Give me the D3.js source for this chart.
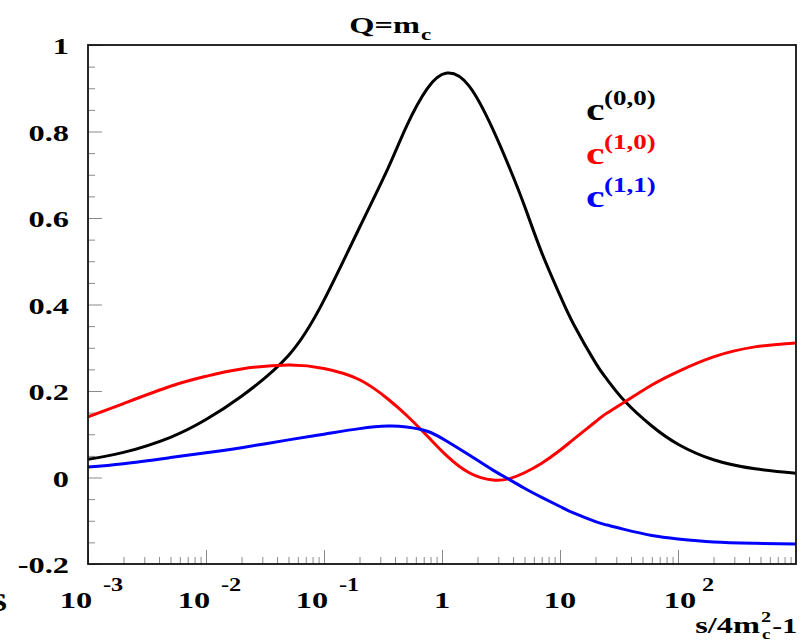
<!DOCTYPE html>
<html><head><meta charset="utf-8">
<script src="https://cdn.jsdelivr.net/npm/d3@7"></script>
<style>body{margin:0;background:#fff}svg{display:block}</style>
</head><body><svg id="c" width="810" height="641"></svg>
<script>
// ---- data ----
const xValues = [0.001,0.002,0.005,0.01,0.02,0.05,0.1,0.2,0.35,0.5,0.75,1.1,1.7,2.7,3.8,5,7,10,13,20,25,35,60,100,200,450,1000];
const c00 = [0.042,0.058,0.093,0.134,0.188,0.282,0.410,0.578,0.716,0.812,0.899,0.935,0.905,0.805,0.711,0.628,0.520,0.421,0.355,0.265,0.227,0.178,0.119,0.077,0.041,0.020,0.010];
const c10 = [0.140,0.171,0.211,0.234,0.251,0.260,0.252,0.226,0.181,0.144,0.096,0.050,0.011,-0.006,-0.002,0.011,0.033,0.063,0.088,0.129,0.149,0.174,0.214,0.245,0.279,0.302,0.311];
const c11 = [0.024,0.032,0.046,0.057,0.069,0.087,0.100,0.113,0.119,0.117,0.107,0.084,0.052,0.017,-0.006,-0.025,-0.046,-0.067,-0.082,-0.102,-0.110,-0.120,-0.134,-0.142,-0.149,-0.152,-0.154];
const seriesNames = ["(0,0)","(1,0)","(1,1)"];
const seriesColors = ["#000000","#ff0000","#0000ff"];
const yTickValues = [-0.2,0,0.2,0.4,0.6,0.8,1];
const yTickLabels = ["-0.2","0","0.2","0.4","0.6","0.8","1"];
const xTickValues = [0.001,0.01,0.1,1,10,100];
const xTickBase = ["10","10","10","1","10","10"];
const xTickExp = ["-3","-2","-1","","","2"];
const titleMain = "Q=m", titleSub = "c";

// ---- layout ----
const L = 88, R = 796, T = 45, B = 564, SX = 1.35;
const FONT = "'Liberation Serif','Times New Roman',serif";
const svg = d3.select("#c");
const x = d3.scaleLog().domain([1e-3, 1e3]).range([L, R]);
const y = d3.scaleLinear().domain([-0.2, 1]).range([B, T]);

function stext(x0, y0, anchor, size, color, str) {
  return svg.append("g").attr("transform", `translate(${x0},${y0}) scale(${SX},1)`)
    .append("text").attr("text-anchor", anchor).attr("font-family", FONT)
    .attr("font-weight", "bold").attr("font-size", size).attr("fill", color).text(str);
}

// minor ticks
const yMinor = d3.range(-0.2, 1.0001, 0.05).map(v => +v.toFixed(2)).filter(v => !yTickValues.some(t => Math.abs(t - v) < 1e-6));
const xMinor = [];
for (let e = -3; e < 3; e++) for (let k = 2; k <= 9; k++) xMinor.push(k * Math.pow(10, e));

const tickStyle = g => { g.select(".domain").remove(); g.selectAll("line").attr("stroke", "#8a8a8a").attr("stroke-width", 1); };
svg.append("g").attr("transform", `translate(${L},0)`).call(d3.axisRight(y).tickValues(yTickValues).tickSize(14).tickFormat("")).call(tickStyle);
svg.append("g").attr("transform", `translate(${L},0)`).call(d3.axisRight(y).tickValues(yMinor).tickSize(7).tickFormat("")).call(tickStyle);
svg.append("g").attr("transform", `translate(0,${B})`).call(d3.axisTop(x).tickValues(xTickValues).tickSize(14).tickFormat("")).call(tickStyle);
svg.append("g").attr("transform", `translate(0,${B})`).call(d3.axisTop(x).tickValues(xMinor).tickSize(7).tickFormat("")).call(tickStyle);

// curves
svg.append("clipPath").attr("id", "clip").append("rect").attr("x", L).attr("y", T).attr("width", R - L).attr("height", B - T);
const line = d3.line().x(d => x(d[0])).y(d => y(d[1])).curve(d3.curveNatural);
[c00, c10, c11].forEach((s, i) => {
  svg.append("path").datum(xValues.map((xv, j) => [xv, s[j]]))
    .attr("d", line).attr("fill", "none").attr("stroke", seriesColors[i])
    .attr("stroke-width", 3).attr("stroke-linejoin", "round").attr("clip-path", "url(#clip)");
});

// frame
svg.append("rect").attr("x", L).attr("y", T).attr("width", R - L).attr("height", B - T)
  .attr("fill", "none").attr("stroke", "#111").attr("stroke-width", 1.8);

// y labels
yTickValues.forEach((v, i) => stext(69, y(v) + 9, "end", 24, "#000", yTickLabels[i]));

// x labels
xTickValues.forEach((v, i) => {
  const tx = x(v);
  if (xTickExp[i] === "") {
    stext(tx, 608, "middle", 24, "#000", xTickBase[i]);
  } else {
    const neg = xTickExp[i].startsWith("-");
    stext(tx + (neg ? -12 : 2), 608, "middle", 24, "#000", xTickBase[i]);
    stext(tx + (neg ? 15 : 24), 591, "start", 18, "#000", xTickExp[i]);
  }
});

// axis title s/4m_c^2-1
stext(760, 633, "end", 24, "#000", "s/4m");
stext(761, 622, "start", 15, "#000", "2");
stext(762, 639, "start", 14, "#000", "c");
stext(797, 633, "end", 22, "#000", "-1");

// title
stext(420, 33, "end", 24, "#000", titleMain);
stext(421, 40, "start", 17, "#000", titleSub);

// legend
seriesNames.forEach((n, i) => {
  const by = 120 + i * 43.5;
  stext(586, by, "start", 31, seriesColors[i], "c");
  stext(604, by - 15, "start", 20, seriesColors[i], n);
});

// cut-off glyph at left edge
stext(-12, 611, "start", 26, "#000", "S");
</script></body></html>
